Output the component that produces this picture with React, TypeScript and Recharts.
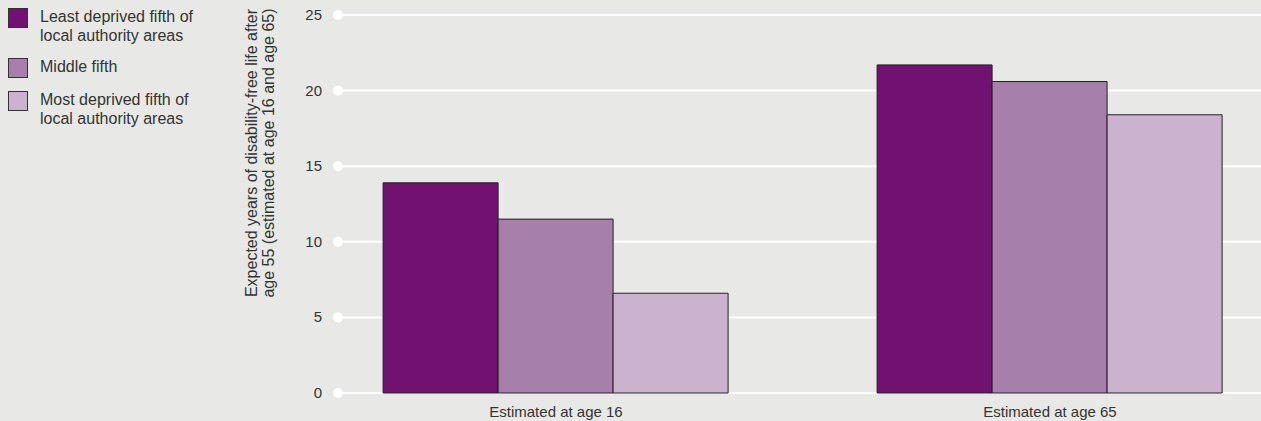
import React from 'react';
import { BarChart, Bar, XAxis, YAxis, CartesianGrid, Label } from 'recharts';

const categories = ['Estimated at age 16', 'Estimated at age 65'];
const leastDeprived = [13.9, 21.7];
const middleFifth = [11.5, 20.6];
const mostDeprived = [6.6, 18.4];
const yTicks = [0, 5, 10, 15, 20, 25];

const series = [
  { key: 'least', name: 'Least deprived fifth of\nlocal authority areas', color: '#711170', values: leastDeprived },
  { key: 'middle', name: 'Middle fifth', color: '#a67fab', values: middleFifth },
  { key: 'most', name: 'Most deprived fifth of\nlocal authority areas', color: '#cbb3cf', values: mostDeprived },
];

const data = categories.map((c, i) => {
  const row: Record<string, string | number> = { category: c };
  series.forEach(s => { row[s.key] = s.values[i]; });
  return row;
});

const FONT = '"Liberation Sans", Arial, sans-serif';

const YTick = (props: any) => {
  const { x, y, payload } = props;
  return (
    <g>
      <circle cx={x + 16} cy={y} r={5} fill="#fff" />
      <text x={x} y={y} dy={5} textAnchor="end" fontSize={15} fill="#333" fontFamily={FONT}>
        {payload.value}
      </text>
    </g>
  );
};

const YLabel = (props: any) => {
  const { viewBox } = props;
  const cy = viewBox.y + 138;
  const cx = 257;
  return (
    <text
      transform={`rotate(-90, ${cx}, ${cy})`}
      x={cx}
      y={cy}
      textAnchor="middle"
      fontSize={16}
      fill="#333"
      fontFamily={FONT}
    >
      <tspan x={cx} dy={0}>Expected years of disability-free life after</tspan>
      <tspan x={cx} dy={17}>age 55 (estimated at age 16 and age 65)</tspan>
    </text>
  );
};

const ChartLegend = () => (
  <div style={{ position: 'absolute', left: 8, top: 7, fontFamily: FONT, fontSize: 16, color: '#333', lineHeight: '19px' }}>
    {series.map(s => (
      <div key={s.key} style={{ display: 'flex', alignItems: 'flex-start', marginBottom: 12 }}>
        <span style={{ width: 18, height: 18, background: s.color, border: '1px solid #333', marginTop: 1, marginRight: 12, flex: 'none' }} />
        <span style={{ whiteSpace: 'pre-line' }}>{s.name}</span>
      </div>
    ))}
  </div>
);

export default function App() {
  return (
    <div style={{ position: 'absolute', left: 0, top: 0, width: 1261, height: 421, background: '#e8e9e6' }}>
      <ChartLegend />
      <BarChart
        width={1261}
        height={421}
        data={data}
        margin={{ top: 15, right: 0, bottom: 0, left: 0 }}
        barCategoryGap="15%"
        barGap={0}
      >
        <CartesianGrid vertical={false} stroke="#fff" strokeWidth={2} />
        <XAxis
          dataKey="category"
          axisLine={false}
          tickLine={false}
          tickSize={0}
          height={28}
          padding={{ left: -29, right: -36 }}
          tick={{ fontSize: 15, fill: '#333', fontFamily: FONT }}
          tickMargin={13}
        />
        <YAxis
          width={338}
          domain={[0, 25]}
          ticks={yTicks}
          axisLine={false}
          tickLine={false}
          tickSize={0}
          tickMargin={16}
          tick={<YTick />}
          interval={0}
        >
          <Label content={<YLabel />} />
        </YAxis>
        {series.map(s => (
          <Bar key={s.key} dataKey={s.key} name={s.name} fill={s.color} stroke="#222" strokeWidth={1} isAnimationActive={false} />
        ))}
      </BarChart>
    </div>
  );
}
